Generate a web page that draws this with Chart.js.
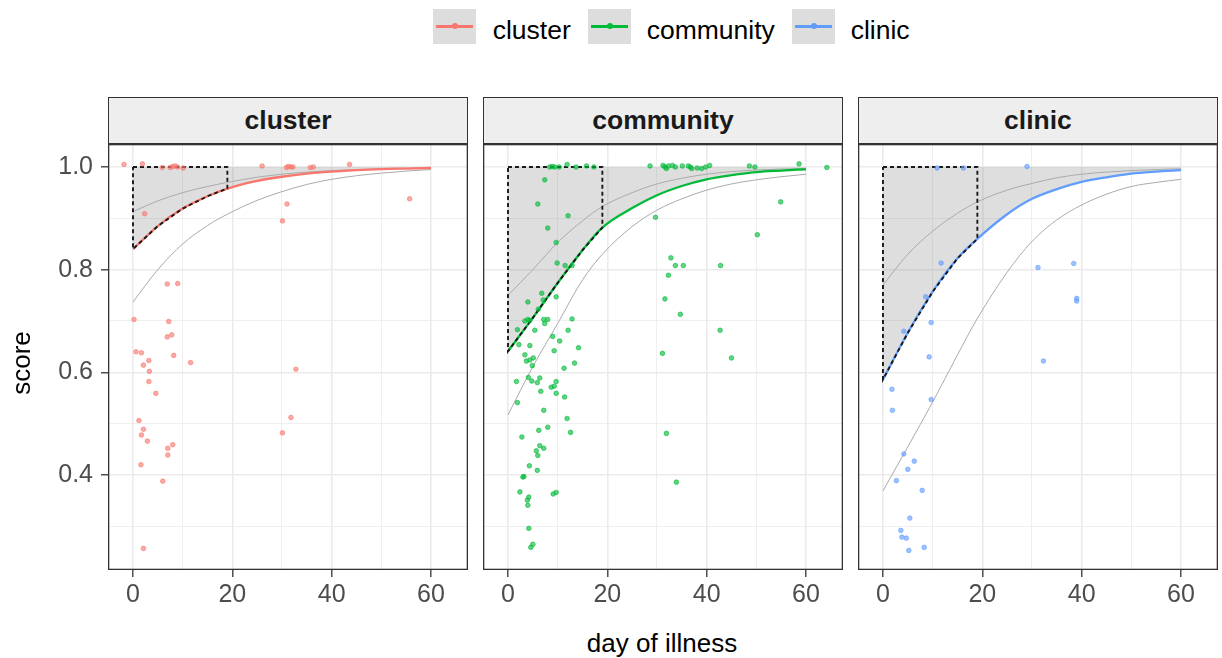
<!DOCTYPE html>
<html lang="en">
<head>
<meta charset="UTF-8">
<title>score by day of illness</title>
<script src="https://cdn.jsdelivr.net/npm/chart.js"></script>
<style>
    body {
        margin: 0;
        width: 1222px;
        height: 658px;
        position: relative;
        overflow: hidden;
        background: #fff;
        font-family: "Liberation Sans", Arial, sans-serif;
    }
    .panel { position: absolute; top: 144px; }
    .strip {
        position: absolute;
        top: 97px;
        width: 360px;
        height: 47px;
        box-sizing: border-box;
        border: 1.3px solid #333;
        background: #EEEEEE;
        text-align: center;
        line-height: 45px;
        font-weight: bold;
        font-size: 26.5px;
        color: #1a1a1a;
    }
    .key {
        position: absolute;
        top: 9px;
        width: 43px;
        height: 35px;
        background: #DDDDDD;
    }
    .key .ln { position: absolute; left: 3px; right: 3px; top: 16px; height: 2.5px; }
    .key .dot { position: absolute; left: 18.5px; top: 14.2px; width: 6px; height: 6px; border-radius: 50%; }
    .ltext {
        position: absolute;
        top: 15px;
        line-height: 30px;
        font-size: 26.5px;
        color: #000;
        white-space: nowrap;
    }
    .axtitle {
        position: absolute;
        line-height: 30px;
        font-size: 26px;
        color: #000;
        text-align: center;
        white-space: nowrap;
    }
</style>
</head>
<body>
<div class="key" style="left:433px"><div class="ln" style="background:#F8766D"></div><div class="dot" style="background:#F8766D"></div></div>
<span class="ltext" style="left:492.7px">cluster</span>
<div class="key" style="left:588px"><div class="ln" style="background:#00BA38"></div><div class="dot" style="background:#00BA38"></div></div>
<span class="ltext" style="left:646.7px">community</span>
<div class="key" style="left:792px"><div class="ln" style="background:#619CFF"></div><div class="dot" style="background:#619CFF"></div></div>
<span class="ltext" style="left:850.7px">clinic</span>

<div class="strip" style="left:108px">cluster</div>
<div class="strip" style="left:483px">community</div>
<div class="strip" style="left:858px">clinic</div>

<div class="panel" style="left:0px"><canvas id="c1" width="468" height="466"></canvas></div>
<div class="panel" style="left:483px"><canvas id="c2" width="360" height="466"></canvas></div>
<div class="panel" style="left:858px"><canvas id="c3" width="360" height="466"></canvas></div>

<div class="axtitle" style="left:-29px;top:348px;width:100px;transform:rotate(-90deg)">score</div>
<div class="axtitle" style="left:512px;top:628px;width:300px">day of illness</div>

<script>
const FONT = '"Liberation Sans", Arial, sans-serif';

// axis ticks (major ones carry a label, minor ones are blank)
const xTicks = [0, 10, 20, 30, 40, 50, 60];
const xTickLabels = ['0', '', '20', '', '40', '', '60'];
const yTicks = [0.3, 0.4, 0.5, 0.6, 0.7, 0.8, 0.9, 1.0];
const yTickLabels = ['', '0.4', '', '0.6', '', '0.8', '', '1.0'];

// fitted curves and their bands
const dayGrid = [0, 5, 10, 15, 19, 25, 30, 35, 40, 45, 50, 55, 60];
const clusterFit   = [0.840, 0.885, 0.919, 0.943, 0.958, 0.973, 0.981, 0.987, 0.991, 0.994, 0.996, 0.997, 0.998];
const clusterUpper = [0.913, 0.934, 0.950, 0.962, 0.970, 0.980, 0.986, 0.990, 0.993, 0.995, 0.996, 0.997, 0.998];
const clusterLower = [0.737, 0.800, 0.850, 0.886, 0.908, 0.935, 0.952, 0.966, 0.976, 0.983, 0.988, 0.992, 0.995];
const communityFit   = [0.641, 0.706, 0.774, 0.838, 0.882, 0.920, 0.945, 0.963, 0.976, 0.984, 0.990, 0.993, 0.9955];
const communityUpper = [0.750, 0.800, 0.853, 0.895, 0.923, 0.950, 0.967, 0.978, 0.986, 0.991, 0.994, 0.996, 0.997];
const communityLower = [0.517, 0.611, 0.695, 0.780, 0.830, 0.884, 0.916, 0.938, 0.955, 0.967, 0.975, 0.981, 0.986];
const clinicFit   = [0.586, 0.677, 0.757, 0.822, 0.860, 0.908, 0.938, 0.957, 0.971, 0.980, 0.987, 0.991, 0.994];
const clinicUpper = [0.770, 0.830, 0.875, 0.910, 0.932, 0.955, 0.968, 0.979, 0.986, 0.990, 0.993, 0.995, 0.9966];
const clinicLower = [0.369, 0.455, 0.542, 0.634, 0.705, 0.795, 0.855, 0.897, 0.926, 0.947, 0.962, 0.970, 0.976];

// dashed box: from day 0 to day 19, up to score 1
const boxEndDay = 19;
const boxTop = 1.0;

// observations [day, score]
const clusterPoints = [
    [-1.8, 1.005], [1.9, 1.006], [5.9, 0.999], [7.5, 0.999], [8.0, 1.001], [8.5, 1.002], [9.0, 1.0],
    [10.1, 0.998], [26.0, 1.002], [30.9, 0.999], [31.3, 1.001], [31.8, 1.0], [32.2, 1.0], [35.7, 0.999],
    [36.3, 1.0], [43.6, 1.005], [2.35, 0.909], [31.0, 0.928], [30.1, 0.895], [55.7, 0.938],
    [6.9, 0.772], [9.0, 0.773], [0.2, 0.703], [7.2, 0.699], [6.9, 0.669], [7.8, 0.673], [0.6, 0.640],
    [1.7, 0.638], [3.2, 0.623], [2.1, 0.614], [8.2, 0.633], [11.6, 0.619], [3.3, 0.602], [32.8, 0.606],
    [3.2, 0.582], [4.6, 0.559], [1.2, 0.506], [31.8, 0.512], [2.1, 0.489], [1.7, 0.478], [30.1, 0.482],
    [2.9, 0.466], [8.0, 0.459], [7.0, 0.452], [7.0, 0.439], [1.6, 0.420], [6.0, 0.388], [2.1, 0.257]
];
const communityPoints = [
    [8.4, 1.0], [8.9, 1.001], [9.4, 1.0], [10.3, 1.0], [11.9, 1.005], [13.7, 1.0], [15.8, 1.002], [17.3, 1.0],
    [28.6, 1.002], [31.2, 1.003], [31.6, 1.0], [31.9, 0.997], [32.3, 1.002], [33.1, 1.003], [33.7, 1.0],
    [35.1, 1.002], [36.3, 1.002], [36.7, 1.0], [37.0, 0.997], [38.1, 0.998], [39.0, 0.997], [39.8, 1.0],
    [40.6, 1.003], [48.6, 1.002], [49.7, 1.0], [58.6, 1.006], [64.2, 0.999],
    [7.4, 0.975], [6.0, 0.928], [12.1, 0.905], [29.7, 0.902], [54.9, 0.932], [8.0, 0.881], [50.2, 0.868],
    [9.7, 0.853], [9.9, 0.813], [11.5, 0.808], [12.9, 0.808], [32.8, 0.823], [33.7, 0.808], [35.3, 0.808],
    [42.8, 0.808], [32.3, 0.789],
    [6.8, 0.754], [4.0, 0.737], [7.1, 0.741], [9.7, 0.747], [6.1, 0.723], [31.6, 0.743], [34.7, 0.713],
    [42.7, 0.682], [31.1, 0.637], [45.0, 0.628],
    [3.4, 0.700], [4.0, 0.703], [4.4, 0.701], [7.2, 0.703], [8.0, 0.703], [7.4, 0.695], [12.9, 0.704],
    [1.9, 0.683], [5.4, 0.682], [12.1, 0.682], [2.2, 0.654], [4.4, 0.652], [9.0, 0.670], [10.4, 0.661],
    [14.2, 0.648], [9.3, 0.642], [3.4, 0.634], [3.7, 0.622], [4.4, 0.624], [5.1, 0.628], [4.9, 0.613],
    [13.4, 0.618], [11.3, 0.608], [4.1, 0.590], [4.8, 0.583], [6.4, 0.589], [5.9, 0.580], [1.7, 0.582],
    [9.7, 0.582], [8.7, 0.571], [9.3, 0.573], [6.6, 0.563], [9.7, 0.559], [11.4, 0.552], [1.9, 0.541],
    [7.2, 0.526], [11.9, 0.510], [8.0, 0.493], [6.2, 0.487], [12.6, 0.483], [2.8, 0.474], [31.9, 0.481],
    [6.4, 0.457], [7.2, 0.452], [5.7, 0.447], [6.0, 0.438], [4.3, 0.418], [5.9, 0.409], [3.2, 0.397],
    [3.0, 0.396], [33.9, 0.386], [2.4, 0.367], [9.1, 0.363], [9.7, 0.366], [4.2, 0.357], [3.9, 0.351],
    [4.0, 0.341], [4.2, 0.296], [5.0, 0.265], [4.6, 0.259]
];
const clinicPoints = [
    [10.9, 0.998], [16.2, 0.998], [29.0, 1.001], [11.7, 0.813], [31.2, 0.804], [38.4, 0.812],
    [39.0, 0.744], [39.0, 0.739], [8.6, 0.747], [9.7, 0.697], [4.2, 0.680], [9.3, 0.630], [32.3, 0.622],
    [1.8, 0.567], [9.7, 0.547], [1.9, 0.526], [4.2, 0.441], [6.3, 0.427], [5.0, 0.411], [2.7, 0.389],
    [7.9, 0.370], [5.4, 0.316], [3.6, 0.292], [3.8, 0.279], [4.7, 0.277], [8.3, 0.259], [5.2, 0.253]
];

const panelBorder = {
    id: 'panelBorder',
    afterDraw(chart) {
        const { ctx, chartArea: a } = chart;
        ctx.save();
        ctx.strokeStyle = '#333333';
        ctx.lineWidth = 1.3;
        ctx.strokeRect(a.left + 0.65, a.top + 0.65, a.right - a.left - 1.3, a.bottom - a.top - 1.3);
        ctx.restore();
    }
};

function curve(values) {
    return dayGrid.map((d, i) => ({ x: d, y: values[i] }));
}

function alpha(hex, a) {
    const n = parseInt(hex.slice(1), 16);
    return `rgba(${n >> 16}, ${(n >> 8) & 255}, ${n & 255}, ${a})`;
}

// no extra room around the plotting area, the page places it
function noPadding(s) {
    s.paddingLeft = 0;
    s.paddingRight = 0;
    s.paddingTop = 0;
    s.paddingBottom = 0;
}

function makePanel(id, points, fit, upper, lower, color, first) {
    const below = curve(fit).filter(p => p.x <= boxEndDay).reverse();
    const box = [{ x: 0, y: boxTop }, { x: boxEndDay, y: boxTop }, ...below, { x: 0, y: boxTop }];

    const tickFont = { family: FONT, size: 25 };
    const smooth = { cubicInterpolationMode: 'monotone', pointRadius: 0 };
    new Chart(document.getElementById(id), {
        type: 'scatter',
        data: {
            datasets: [{
                data: points.map(p => ({ x: p[0], y: p[1] })),
                backgroundColor: alpha(color, 0.62),
                borderColor: alpha(color, 0.62),
                borderWidth: 1,
                pointRadius: 2.3,
                order: 1
            }, {
                type: 'line',
                data: box,
                borderColor: '#1a1a1a',
                borderWidth: 1.9,
                borderDash: [4, 3],
                tension: 0,
                pointRadius: 0,
                fill: false,
                order: 2
            }, {
                type: 'line',
                data: curve(fit),
                borderColor: color,
                borderWidth: 2.3,
                ...smooth,
                fill: false,
                order: 3
            }, {
                type: 'line',
                data: curve(upper),
                borderColor: '#AAAAAA',
                borderWidth: 1,
                ...smooth,
                fill: false,
                order: 4
            }, {
                type: 'line',
                data: curve(lower),
                borderColor: '#AAAAAA',
                borderWidth: 1,
                ...smooth,
                fill: false,
                order: 5
            }, {
                type: 'line',
                data: curve(fit),
                borderColor: 'rgba(0,0,0,0)',
                borderWidth: 0,
                backgroundColor: 'rgba(128,128,128,0.26)',
                ...smooth,
                fill: { value: boxTop },
                order: 6
            }]
        },
        options: {
            responsive: false,
            animation: false,
            events: [],
            layout: { padding: 0, autoPadding: false },
            plugins: { legend: { display: false }, tooltip: { enabled: false } },
            scales: {
                x: {
                    type: 'linear',
                    min: -5.03,
                    max: 67.45,
                    afterBuildTicks: s => { s.ticks = xTicks.map(v => ({ value: v })); },
                    afterFit: s => { s.height = 40; noPadding(s); },
                    ticks: {
                        autoSkip: false,
                        maxRotation: 0,
                        padding: 3,
                        color: '#4D4D4D',
                        font: tickFont,
                        callback: (v, i) => xTickLabels[i]
                    },
                    grid: {
                        color: '#EBEBEB',
                        lineWidth: c => xTickLabels[c.index] ? 1.6 : 0.8,
                        tickLength: 7,
                        tickWidth: 1.3,
                        tickColor: c => xTickLabels[c.index] ? '#333333' : 'rgba(0,0,0,0)'
                    },
                    border: { display: false }
                },
                y: {
                    type: 'linear',
                    min: 0.2149,
                    max: 1.0448,
                    afterBuildTicks: s => { s.ticks = yTicks.map(v => ({ value: v })); },
                    afterFit: s => { s.width = first ? 108 : 0; noPadding(s); },
                    ticks: {
                        display: first,
                        autoSkip: false,
                        padding: 8,
                        color: '#4D4D4D',
                        font: tickFont,
                        callback: (v, i) => yTickLabels[i]
                    },
                    grid: {
                        color: '#EBEBEB',
                        lineWidth: c => yTickLabels[c.index] ? 1.6 : 0.8,
                        drawTicks: first,
                        tickLength: 7,
                        tickWidth: 1.3,
                        tickColor: c => yTickLabels[c.index] ? '#333333' : 'rgba(0,0,0,0)'
                    },
                    border: { display: false }
                }
            }
        },
        plugins: [panelBorder]
    });
}

makePanel('c1', clusterPoints, clusterFit, clusterUpper, clusterLower, '#F8766D', true);
makePanel('c2', communityPoints, communityFit, communityUpper, communityLower, '#00BA38', false);
makePanel('c3', clinicPoints, clinicFit, clinicUpper, clinicLower, '#619CFF', false);
</script>
</body>
</html>
